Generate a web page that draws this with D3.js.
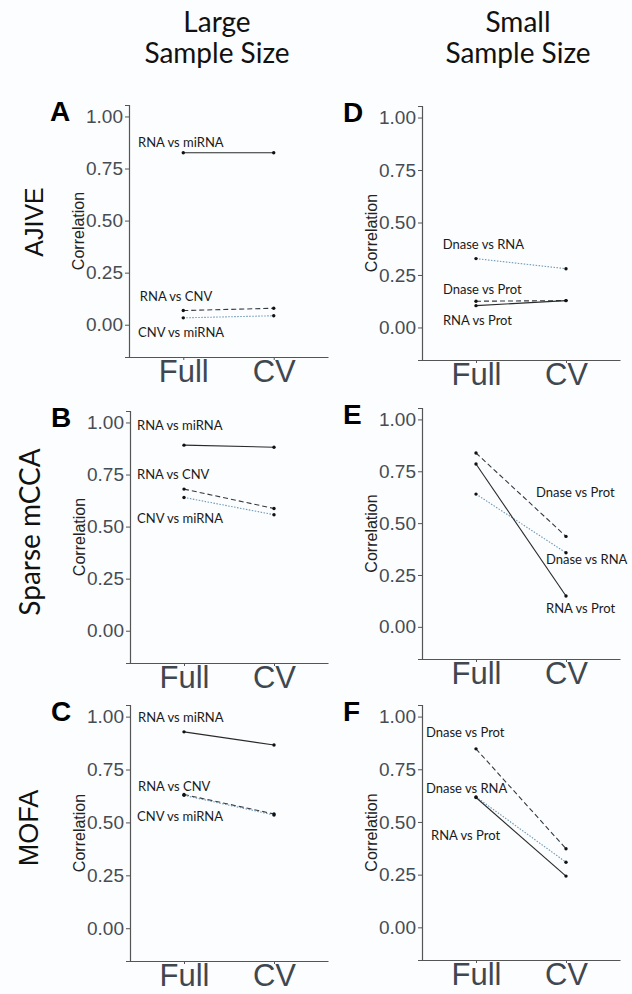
<!DOCTYPE html>
<html><head><meta charset="utf-8">
<script src="https://cdn.jsdelivr.net/npm/d3@7"></script>
<style>
html,body{margin:0;padding:0;background:#fcfdfe;}
svg{display:block;}
</style></head>
<body>
<svg id="chart" width="632" height="994"></svg>
<script>
// ---------- data ----------
const conditions = ["Full", "CV"];
const yTicks = [0, 0.25, 0.5, 0.75, 1.0];
const columnTitles = ["Large\nSample Size", "Small\nSample Size"];
const methods = ["AJIVE", "Sparse mCCA", "MOFA"];
const panelLetters = ["A", "B", "C", "D", "E", "F"];
const largePairs = ["RNA vs miRNA", "RNA vs CNV", "CNV vs miRNA"];
const smallPairs = ["Dnase vs RNA", "Dnase vs Prot", "RNA vs Prot"];
// values: [Full, CV] per pair
const ajiveLarge = [[0.826, 0.826], [0.068, 0.079], [0.033, 0.043]];
const mccaLarge  = [[0.891, 0.881], [0.680, 0.587], [0.640, 0.557]];
const mofaLarge  = [[0.928, 0.866], [0.632, 0.540], [0.628, 0.535]];
const ajiveSmall = [[0.328, 0.280], [0.125, 0.128], [0.104, 0.128]];
const mccaSmall  = [[0.640, 0.357], [0.838, 0.436], [0.785, 0.149]];
const mofaSmall  = [[0.619, 0.309], [0.847, 0.373], [0.616, 0.243]];

// ---------- layout / style ----------
const yDomain = [-0.155, 1.055];
const panels = [
  {letter:panelLetters[0], pairs:largePairs, vals:ajiveLarge, left:129, right:328, top:105, bottom:357,
   lab:[[0.50,0.875],[0.52,0.138],[0.50,-0.033]]},
  {letter:panelLetters[1], pairs:largePairs, vals:mccaLarge, left:130, right:328, top:411, bottom:663,
   lab:[[0.478,0.987],[0.478,0.752],[0.478,0.541]]},
  {letter:panelLetters[2], pairs:largePairs, vals:mofaLarge, left:130, right:328, top:705, bottom:961,
   lab:[[0.489,1.0],[0.489,0.672],[0.478,0.530]]},
  {letter:panelLetters[3], pairs:smallPairs, vals:ajiveSmall, left:422, right:620, top:106, bottom:360,
   lab:[[0.63,0.396],[0.633,0.181],[0.633,0.037]]},
  {letter:panelLetters[4], pairs:smallPairs, vals:mccaSmall, left:422, right:620, top:408, bottom:659,
   lab:[[1.778,0.327],[1.667,0.648],[1.778,0.089]]},
  {letter:panelLetters[5], pairs:smallPairs, vals:mofaSmall, left:422, right:620, top:705, bottom:960,
   lab:[[0.444,0.659],[0.444,0.929],[0.50,0.439]]}
];
const largeStyles = [
  {stroke:"#2a2a2a", dash:null},
  {stroke:"#333a40", dash:"5,3"},
  {stroke:"#6f98b5", dash:"1.5,1.5"}
];
const smallStyles = [
  {stroke:"#6f98b5", dash:"1.5,1.5"},
  {stroke:"#333a40", dash:"5,3"},
  {stroke:"#2a2a2a", dash:null}
];

const svg = d3.select("#chart");
const sansA = "'Liberation Sans', Arial, sans-serif";
const sansC = "Lato, 'Open Sans', sans-serif";

// column titles
const colCenters = [217, 518];
columnTitles.forEach((t, i) => {
  t.split("\n").forEach((ln, j) => {
    svg.append("text").attr("x", colCenters[i]).attr("y", 32 + j * 31)
      .attr("text-anchor", "middle").attr("font-family", sansC)
      .attr("font-size", 28).attr("fill", "#111").text(ln);
  });
});

// row labels
const rowLabel = [
  {t:methods[0], x:43, y:222, font:sansA, size:25},
  {t:methods[1], x:40, y:532, font:sansC, size:28},
  {t:methods[2], x:38, y:828, font:sansA, size:27}
];
rowLabel.forEach(r => {
  svg.append("text").attr("transform", `translate(${r.x},${r.y}) rotate(-90)`)
    .attr("text-anchor", "middle").attr("font-family", r.font)
    .attr("font-size", r.size).attr("fill", "#111").text(r.t);
});

panels.forEach(p => {
  const g = svg.append("g");
  const x = d3.scalePoint().domain(conditions).range([p.left, p.right]).padding(0.6);
  const xu = d3.scaleLinear().domain([0.4, 2.6]).range([p.left, p.right]);
  const y = d3.scaleLinear().domain(yDomain).range([p.bottom, p.top]);
  const styles = p.pairs === largePairs ? largeStyles : smallStyles;

  // y axis
  const ya = g.append("g").attr("transform", `translate(${p.left},0)`)
    .call(d3.axisLeft(y).tickValues(yTicks).tickFormat(d3.format(".2f")).tickSize(4).tickPadding(2));
  ya.select(".domain").attr("stroke", "#555").attr("stroke-width", 1.2);
  ya.selectAll(".tick line").attr("stroke", "#555");
  ya.selectAll(".tick text").attr("font-family", sansA).attr("font-size", 19).attr("fill", "#464c53");

  // x axis
  const xa = g.append("g").attr("transform", `translate(0,${p.bottom})`)
    .call(d3.axisBottom(x).tickSize(3).tickPadding(0).tickSizeOuter(0));
  xa.select(".domain").attr("stroke", "#555").attr("stroke-width", 1.2);
  xa.selectAll(".tick line").attr("stroke", "#555");
  xa.selectAll(".tick text").attr("font-family", sansA).attr("font-size", 31).attr("fill", "#3f4850");

  // y title
  g.append("text").attr("transform", `translate(${p.left - 45},${(p.top + p.bottom) / 2}) rotate(-90)`)
    .attr("text-anchor", "middle").attr("font-family", sansA).attr("font-size", 16)
    .attr("fill", "#222").text("Correlation");

  // panel letter
  g.append("text").attr("x", p.left - 79).attr("y", p.top + 16)
    .attr("font-family", sansA).attr("font-weight", "bold").attr("font-size", 28)
    .attr("fill", "#000").text(p.letter);

  // lines + points
  p.vals.forEach((v, k) => {
    const pts = conditions.map((c, ci) => [x(c), y(v[ci])]);
    const st = styles[k];
    g.append("path").attr("d", d3.line()(pts)).attr("fill", "none")
      .attr("stroke", st.stroke).attr("stroke-width", 1.1)
      .attr("stroke-dasharray", st.dash);
    pts.forEach(pt => g.append("circle").attr("cx", pt[0]).attr("cy", pt[1]).attr("r", 1.7).attr("fill", "#111"));
  });

  // labels
  p.pairs.forEach((name, k) => {
    g.append("text").attr("x", xu(p.lab[k][0])).attr("y", y(p.lab[k][1]))
      .attr("dominant-baseline", "central").attr("font-family", sansC)
      .attr("font-size", 13).attr("fill", "#1a1a1a").text(name);
  });
});
</script>
</body></html>
